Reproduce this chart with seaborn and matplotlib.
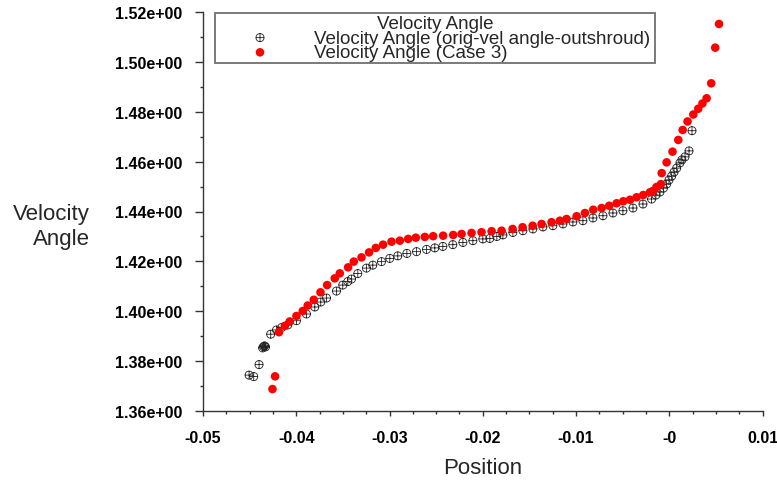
import numpy as np
import seaborn as sns
import matplotlib
matplotlib.use("Agg")
import matplotlib.pyplot as plt
from matplotlib.path import Path
from matplotlib.ticker import MultipleLocator, FuncFormatter

# Velocity Angle (orig-vel angle-outshroud)
orig_x = [-0.04506, -0.04456, -0.04399, -0.0436, -0.0435, -0.0434, -0.0433,
          -0.04274, -0.04212, -0.04156, -0.04091, -0.03998, -0.03891, -0.03801,
          -0.03737, -0.03676, -0.03569, -0.03501, -0.03447, -0.03408, -0.0334,
          -0.03247, -0.03179, -0.03086, -0.02997, -0.02911, -0.02814, -0.0271,
          -0.02603, -0.02514, -0.02428, -0.02321, -0.02213, -0.02106, -0.01999,
          -0.01924, -0.01849, -0.01784, -0.01677, -0.0157, -0.01462, -0.01355,
          -0.01248, -0.0114, -0.01033, -0.00926, -0.00818, -0.00711, -0.00604,
          -0.00497, -0.00389, -0.00282, -0.00189, -0.00143, -0.001, -0.00062,
          -0.00028, -0.00003, 0.00026, 0.00051, 0.0008, 0.00115, 0.00136,
          0.00169, 0.00212, 0.00244]
orig_y = [1.3744, 1.3738, 1.3786, 1.3853, 1.3858, 1.3861, 1.3857,
          1.3908, 1.3925, 1.3935, 1.3945, 1.3962, 1.3989, 1.4017,
          1.4037, 1.4053, 1.4081, 1.4105, 1.4119, 1.4129, 1.4151,
          1.4173, 1.4185, 1.4199, 1.4212, 1.4222, 1.4232, 1.4239,
          1.4248, 1.4254, 1.4260, 1.4267, 1.4276, 1.4283, 1.4290,
          1.4292, 1.4300, 1.4306, 1.4316, 1.4323, 1.4330, 1.4338,
          1.4343, 1.4350, 1.4358, 1.4363, 1.4374, 1.4383, 1.4394,
          1.4403, 1.4414, 1.4430, 1.4450, 1.4466, 1.4478, 1.4494,
          1.4510, 1.4526, 1.4542, 1.4558, 1.4574, 1.4595, 1.4607,
          1.4619, 1.4643, 1.4724]

# Velocity Angle (Case 3)
case3_x = [-0.04255, -0.04227, -0.04185, -0.04123, -0.0407, -0.03998, -0.0393,
           -0.03877, -0.03812, -0.0374, -0.03669, -0.03587, -0.03533, -0.03444,
           -0.03383, -0.033, -0.03219, -0.03147, -0.03069, -0.02978, -0.02889,
           -0.028, -0.02718, -0.02621, -0.02532, -0.02425, -0.02317, -0.02227,
           -0.0212, -0.02013, -0.01905, -0.01798, -0.0168, -0.01573, -0.01465,
           -0.01369, -0.01262, -0.01173, -0.01101, -0.00993, -0.00904, -0.00815,
           -0.00725, -0.00644, -0.00564, -0.00493, -0.00421, -0.0035, -0.00279,
           -0.00207, -0.00172, -0.00137, -0.00089, -0.00081, -0.00028, 0.00035,
           0.00097, 0.00144, 0.00196, 0.00258, 0.00311, 0.00356, 0.00401,
           0.0045, 0.00493, 0.00534]
case3_y = [1.3688, 1.3739, 1.3916, 1.3941, 1.3959, 1.3981, 1.4001,
           1.4023, 1.4046, 1.4076, 1.4105, 1.4132, 1.4152, 1.4176,
           1.4199, 1.4216, 1.4236, 1.4254, 1.4267, 1.4279, 1.4283,
           1.4290, 1.4295, 1.4298, 1.4301, 1.4303, 1.4306, 1.4310,
           1.4314, 1.4317, 1.4321, 1.4323, 1.4330, 1.4337, 1.4343,
           1.4350, 1.4357, 1.4363, 1.4370, 1.4381, 1.4394, 1.4407,
           1.4414, 1.4423, 1.4433, 1.4441, 1.4447, 1.4457, 1.4466,
           1.4477, 1.4483, 1.4498, 1.4510, 1.4554, 1.4597, 1.4640,
           1.4687, 1.4727, 1.4761, 1.4789, 1.4812, 1.4833, 1.4854,
           1.4914, 1.5057, 1.5152]

sns.set_style("ticks")
plt.rcParams['font.family'] = ['Liberation Sans', 'DejaVu Sans']

fig = plt.figure(figsize=(7.77, 4.85), dpi=100)
ax = fig.add_axes([203 / 777, 73 / 485, 559.5 / 777, 399 / 485])

# circle with a plus inside
crossed = Path.make_compound_path(
    Path.unit_circle(),
    Path([[-1, 0], [1, 0]], [Path.MOVETO, Path.LINETO]),
    Path([[0, -1], [0, 1]], [Path.MOVETO, Path.LINETO]),
)

sns.scatterplot(x=orig_x, y=orig_y, ax=ax, marker=crossed, s=34,
                facecolor='none', edgecolor='#222222', linewidth=0.6,
                label='Velocity Angle (orig-vel angle-outshroud)')
sns.scatterplot(x=case3_x, y=case3_y, ax=ax, marker='o', s=38,
                color='#ff0000', edgecolor='none',
                label='Velocity Angle (Case 3)')

ax.set_xlim(-0.05, 0.01)
ax.set_ylim(1.36, 1.52)
ax.xaxis.set_major_locator(MultipleLocator(0.01))
ax.xaxis.set_minor_locator(MultipleLocator(0.0025))
ax.yaxis.set_major_locator(MultipleLocator(0.02))
ax.yaxis.set_minor_locator(MultipleLocator(0.01))
ax.xaxis.set_major_formatter(FuncFormatter(lambda v, p: '%g' % round(v, 4)))
ax.yaxis.set_major_formatter(FuncFormatter(lambda v, p: '%.2e' % v))

ax.tick_params(axis='both', which='both', direction='out', colors='#333333',
               labelcolor='black')
ax.tick_params(axis='y', which='major', length=5.8, width=1, pad=9)
ax.tick_params(axis='y', which='minor', length=2.4, width=1)
ax.tick_params(axis='x', which='major', length=3.5, width=1, pad=10)
ax.tick_params(axis='x', which='minor', length=1.8, width=1)
for lab in ax.get_xticklabels() + ax.get_yticklabels():
    lab.set_fontsize(11.5)
    lab.set_fontweight('bold')

sns.despine(ax=ax)
for side in ['left', 'bottom']:
    ax.spines[side].set_color('#333333')
    ax.spines[side].set_linewidth(1)

ax.set_xlabel('Position', fontsize=16, labelpad=9)
fig.text(90 / 777, 1 - 227 / 485, 'Velocity\nAngle', fontsize=16,
         ha='right', va='center', multialignment='right', linespacing=1.25)

leg = ax.legend(title='Velocity Angle', loc='upper left',
                bbox_to_anchor=(215 / 777, 1 - 14 / 485, 440 / 777, 0),
                bbox_transform=fig.transFigure, mode='expand',
                borderaxespad=0, borderpad=0.1, labelspacing=-0.13,
                handlelength=4.6, handletextpad=0.6, fontsize=13.5,
                title_fontsize=13.5, fancybox=False, framealpha=1)
leg.get_frame().set_edgecolor('#707070')
leg.get_frame().set_linewidth(1.3)

fig.savefig('out.png', dpi=100)
